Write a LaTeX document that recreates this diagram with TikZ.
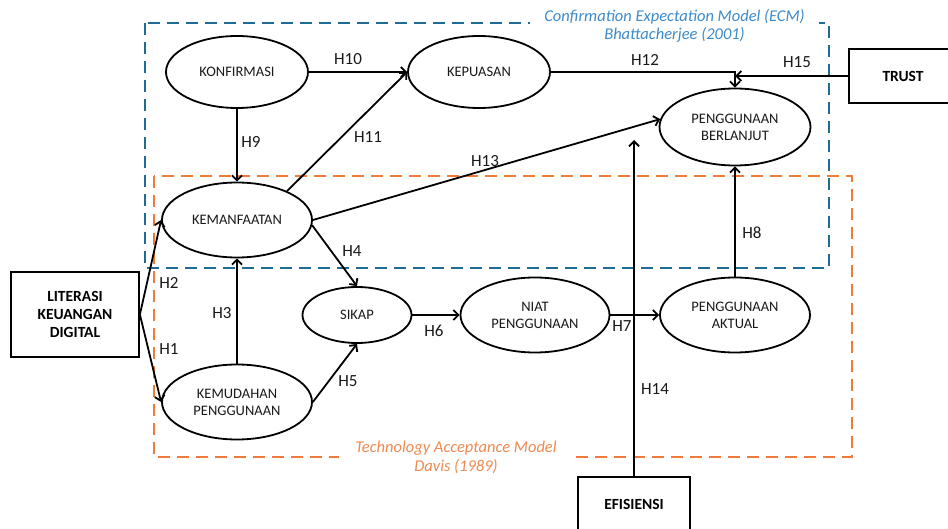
\documentclass[tikz,border=0pt]{standalone}
\usepackage{fontspec}
\setmainfont{Carlito}
\usetikzlibrary{arrows.meta,shapes.geometric}
\definecolor{ecmline}{HTML}{1F6B94}
\definecolor{ecmtext}{HTML}{3D8BCB}
\definecolor{tamline}{HTML}{F07A3A}
\definecolor{tamtext}{HTML}{EE8A52}
\begin{document}
\begin{tikzpicture}[x=1pt,y=-1pt,
  construct/.style={ellipse, draw, line width=1.8pt, inner sep=0pt, align=center,
    font=\fontsize{14.5}{17}\selectfont, text=black!90},
  extbox/.style={rectangle, draw, line width=1.8pt, inner sep=0pt, align=center,
    font=\fontsize{15.5}{18}\selectfont\bfseries},
  arr/.style={line width=1.8pt, -{Straight Barb[length=5pt,width=10pt]}},
  hyp/.style={font=\fontsize{17}{20}\selectfont, text=black!90, inner sep=0pt},
  modelframe/.style={line width=2.8pt, dash pattern=on 12pt off 7pt},
  modellabel/.style={fill=white, inner ysep=1pt, align=center,
    font=\fontsize{16.5}{18.5}\selectfont\itshape},
  ]
\clip (0,0) rectangle (948,529);
% model frames
\draw[modelframe, ecmline] (145,23) rectangle (829,268);
\draw[modelframe, tamline] (154,176) rectangle (852,457);
\node[modellabel, inner xsep=14pt, text=ecmtext] (ecmlabel) at (674.5,26)
  {Confirmation Expectation Model (ECM)\\Bhattacherjee (2001)};
\node[modellabel, inner xsep=16pt, text=tamtext] (tamlabel) at (456,457.5)
  {Technology Acceptance Model\\Davis (1989)};
% constructs
\node[construct, minimum width=142pt, minimum height=72pt] (konf) at (237,72) {KONFIRMASI};
\node[construct, minimum width=142pt, minimum height=72pt] (kepu) at (479,72) {KEPUASAN};
\node[construct, minimum width=151pt, minimum height=77pt] (berl) at (735,127) {PENGGUNAAN\\BERLANJUT};
\node[construct, minimum width=150pt, minimum height=75pt] (manf) at (237,220) {KEMANFAATAN};
\node[construct, minimum width=109pt, minimum height=56pt] (sikap) at (357,315) {SIKAP};
\node[construct, minimum width=149pt, minimum height=75pt] (niat) at (535,315) {NIAT\\PENGGUNAAN};
\node[construct, minimum width=150pt, minimum height=75pt] (aktu) at (735,315) {PENGGUNAAN\\AKTUAL};
\node[construct, minimum width=150pt, minimum height=75pt] (mudah) at (237,402) {KEMUDAHAN\\PENGGUNAAN};
% external boxes
\node[extbox, minimum width=128pt, minimum height=85pt] (lit) at (75,314.5) {LITERASI\\KEUANGAN\\DIGITAL};
\node[extbox, minimum width=108pt, minimum height=54pt] (trust) at (903,76) {TRUST};
\node[extbox, minimum width=112pt, minimum height=54pt] (efi) at (634,504) {EFISIENSI};
% connectors
\draw[arr] (konf) -- (kepu);
\draw[arr] (kepu.east) -| (berl.north);
\draw[arr] (trust.west) -- (trust.west -| berl.north);
\draw[arr] (konf) -- (manf);
\draw[arr] (manf.30) -- (kepu.west);
\draw[arr] (manf.east) -- (berl.174);
\draw[arr] (manf.-4) -- (sikap.north);
\draw[arr] (mudah) -- (manf);
\draw[arr] (mudah.east) -- (sikap.south);
\draw[arr] (lit.east) -- (manf.west);
\draw[arr] (lit.east) -- (mudah.west);
\draw[arr] (sikap) -- (niat);
\draw[arr] (niat) -- (aktu);
\draw[arr] (aktu) -- (berl);
\coordinate (efitop) at (634,140);
\draw[arr] (efi.north) -- (efitop);
% hypothesis labels
\node[hyp] (h1) at (169,349) {H1};
\node[hyp] (h2) at (169,283) {H2};
\node[hyp] (h3) at (222,313) {H3};
\node[hyp] (h4) at (352,251) {H4};
\node[hyp] (h5) at (348,381) {H5};
\node[hyp] (h6) at (434,331) {H6};
\node[hyp] (h7) at (622,326) {H7};
\node[hyp] (h8) at (752,233) {H8};
\node[hyp] (h9) at (251,142) {H9};
\node[hyp] (h10) at (348,59) {H10};
\node[hyp] (h11) at (368,137) {H11};
\node[hyp] (h12) at (645,60) {H12};
\node[hyp] (h13) at (485,161) {H13};
\node[hyp] (h14) at (655,389) {H14};
\node[hyp] (h15) at (797,62) {H15};
\end{tikzpicture}
\end{document}
